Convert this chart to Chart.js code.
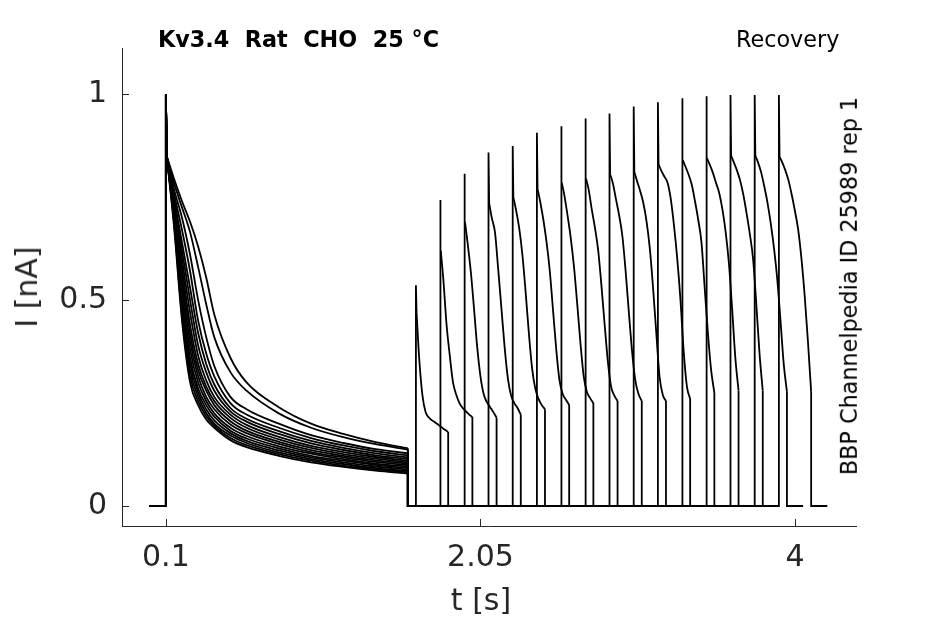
<!DOCTYPE html>
<html>
<head>
<meta charset="utf-8">
<script src="https://cdn.jsdelivr.net/npm/chart.js@4.4.1/dist/chart.umd.min.js"></script>
<style>
html, body { margin: 0; padding: 0; background: #fff; }
#wrap { position: relative; width: 945px; height: 624px; }
.lbl { position: absolute; font-family: "DejaVu Sans"; white-space: pre; line-height: 1; color: #000; }
.ctr { transform: translate(-50%, -50%); }
.rot { transform: translate(-50%, -50%) rotate(-90deg); }
</style>
</head>
<body>
<div id="wrap">
  <canvas id="chart"></canvas>
  <div class="lbl" style="left:158px; top:28px; font-size:22.3px; font-weight:bold;">Kv3.4  Rat  CHO  25 °C</div>
  <div class="lbl" style="left:736px; top:28px; font-size:22.3px;">Recovery</div>
  <div class="lbl rot" style="left:849px; top:286px; font-size:22.3px;">BBP Channelpedia ID 25989 rep 1</div>
  <div class="lbl rot" style="left:27px; top:287px; font-size:30px; color:#262626;">I [nA]</div>
  <div class="lbl ctr" style="left:481px; top:600px; font-size:30px; color:#262626;">t [s]</div>
</div>
<script>
const X_TICKS = [0.1, 2.05, 4];
const Y_TICKS = [0, 0.5, 1];

// conditioning pulse, same times for every sweep (first value is the capacitive spike)
const FIRST_T = [0.1, 0.105, 0.15, 0.2, 0.25, 0.3, 0.35, 0.4, 0.5, 0.6, 0.8, 1.0, 1.2, 1.4, 1.6];
const FIRST_I = [
  [1, 0.85, 0.795, 0.74, 0.69, 0.63, 0.555, 0.465, 0.36, 0.30, 0.24, 0.20, 0.175, 0.155, 0.14],
  [1, 0.85, 0.785, 0.725, 0.665, 0.58, 0.49, 0.41, 0.325, 0.28, 0.225, 0.19, 0.167, 0.15, 0.137],
  [1, 0.85, 0.77, 0.70, 0.61, 0.50, 0.41, 0.34, 0.265, 0.235, 0.20, 0.172, 0.153, 0.138, 0.128],
  [1, 0.85, 0.76, 0.67, 0.57, 0.45, 0.37, 0.315, 0.25, 0.222, 0.19, 0.165, 0.147, 0.133, 0.123],
  [1, 0.85, 0.75, 0.64, 0.53, 0.42, 0.345, 0.295, 0.238, 0.212, 0.182, 0.158, 0.141, 0.128, 0.118],
  [1, 0.85, 0.745, 0.62, 0.50, 0.39, 0.325, 0.28, 0.23, 0.205, 0.175, 0.152, 0.136, 0.123, 0.114],
  [1, 0.85, 0.74, 0.60, 0.47, 0.365, 0.305, 0.265, 0.222, 0.197, 0.168, 0.146, 0.131, 0.119, 0.11],
  [1, 0.85, 0.73, 0.58, 0.44, 0.345, 0.29, 0.255, 0.214, 0.19, 0.162, 0.141, 0.126, 0.115, 0.106],
  [1, 0.85, 0.725, 0.56, 0.42, 0.33, 0.28, 0.245, 0.206, 0.183, 0.156, 0.136, 0.122, 0.111, 0.103],
  [1, 0.85, 0.72, 0.54, 0.40, 0.315, 0.265, 0.235, 0.198, 0.177, 0.151, 0.131, 0.118, 0.107, 0.099],
  [1, 0.85, 0.71, 0.52, 0.38, 0.30, 0.255, 0.225, 0.19, 0.17, 0.145, 0.127, 0.114, 0.103, 0.096],
  [1, 0.85, 0.705, 0.50, 0.36, 0.285, 0.245, 0.217, 0.183, 0.164, 0.14, 0.122, 0.11, 0.10, 0.092],
  [1, 0.85, 0.70, 0.49, 0.345, 0.275, 0.235, 0.208, 0.177, 0.158, 0.135, 0.118, 0.106, 0.096, 0.088],
  [1, 0.85, 0.695, 0.475, 0.33, 0.265, 0.226, 0.20, 0.171, 0.153, 0.13, 0.114, 0.102, 0.092, 0.085],
  [1, 0.85, 0.69, 0.46, 0.315, 0.255, 0.218, 0.195, 0.165, 0.148, 0.126, 0.11, 0.098, 0.089, 0.082],
  [1, 0.85, 0.68, 0.45, 0.30, 0.245, 0.21, 0.19, 0.16, 0.143, 0.122, 0.106, 0.095, 0.086, 0.079],
];

// test pulse after a growing recovery gap (first value is the peak)
const SECOND_START = [1.65, 1.8, 1.95, 2.1, 2.25, 2.4, 2.55, 2.7, 2.85, 3.0, 3.15, 3.3, 3.45, 3.6, 3.75, 3.9];
const SECOND_DT = [0, 0.004, 0.02, 0.04, 0.06, 0.08, 0.1, 0.12, 0.14, 0.16, 0.18, 0.2];
const SECOND_I = [
  [0.536, 0.47, 0.36, 0.27, 0.228, 0.215, 0.208, 0.203, 0.197, 0.191, 0.185, 0.18],
  [0.743, 0.62, 0.55, 0.44, 0.365, 0.30, 0.27, 0.25, 0.238, 0.23, 0.222, 0.216],
  [0.807, 0.69, 0.64, 0.57, 0.48, 0.385, 0.315, 0.272, 0.252, 0.24, 0.228, 0.215],
  [0.858, 0.735, 0.70, 0.665, 0.575, 0.48, 0.385, 0.31, 0.268, 0.25, 0.238, 0.222],
  [0.874, 0.75, 0.72, 0.675, 0.61, 0.52, 0.42, 0.335, 0.285, 0.26, 0.245, 0.235],
  [0.906, 0.77, 0.74, 0.695, 0.64, 0.57, 0.475, 0.38, 0.305, 0.272, 0.258, 0.245],
  [0.922, 0.785, 0.755, 0.705, 0.65, 0.58, 0.49, 0.395, 0.315, 0.277, 0.262, 0.25],
  [0.941, 0.795, 0.77, 0.72, 0.675, 0.62, 0.535, 0.44, 0.35, 0.29, 0.268, 0.255],
  [0.953, 0.805, 0.785, 0.745, 0.705, 0.655, 0.57, 0.47, 0.375, 0.305, 0.272, 0.255],
  [0.97, 0.81, 0.79, 0.765, 0.735, 0.69, 0.625, 0.53, 0.42, 0.315, 0.27, 0.255],
  [0.98, 0.83, 0.815, 0.80, 0.785, 0.745, 0.68, 0.60, 0.50, 0.375, 0.29, 0.26],
  [0.99, 0.84, 0.825, 0.805, 0.78, 0.74, 0.695, 0.64, 0.53, 0.42, 0.33, 0.275],
  [0.995, 0.845, 0.83, 0.81, 0.785, 0.76, 0.72, 0.665, 0.59, 0.48, 0.36, 0.28],
  [0.998, 0.85, 0.835, 0.815, 0.79, 0.755, 0.71, 0.66, 0.60, 0.49, 0.37, 0.28],
  [0.998, 0.85, 0.835, 0.81, 0.775, 0.735, 0.685, 0.625, 0.55, 0.45, 0.345, 0.277],
  [0.998, 0.848, 0.835, 0.815, 0.79, 0.755, 0.715, 0.67, 0.60, 0.51, 0.40, 0.277],
];

const SWEEP_START = 0;
const FIRST_END = 1.6;
const PULSE_LEN = 0.2;
const TAIL_LEN = 0.1;

const datasets = [];
const pt = (x, y) => ({x, y});
const gap = x => ({x, y: null});
SECOND_START.forEach((t0, i) => {
  const first = FIRST_I[i];
  const second = SECOND_I[i];
  const t1 = t0 + PULSE_LEN;
  // steps, spikes and baselines, straight segments
  datasets.push({
    data: [
      pt(SWEEP_START, 0), pt(FIRST_T[0], 0), pt(FIRST_T[0], first[0]), pt(FIRST_T[1], first[1]), gap(FIRST_T[1]),
      pt(FIRST_END, first[first.length - 1]), pt(FIRST_END, 0), pt(t0, 0), pt(t0, second[0]), pt(t0 + SECOND_DT[1], second[1]), gap(t0 + SECOND_DT[1]),
      pt(t1, second[second.length - 1]), pt(t1, 0), pt(t1 + TAIL_LEN, 0),
    ],
    tension: 0,
  });
  // decaying currents, smooth
  datasets.push({
    data: FIRST_T.slice(1).map((t, k) => pt(t, first[k + 1])),
    cubicInterpolationMode: 'monotone',
  });
  datasets.push({
    data: SECOND_DT.slice(1).map((dt, k) => pt(t0 + dt, second[k + 1])),
    cubicInterpolationMode: 'monotone',
  });
});

const inwardTicks = {
  id: 'inwardTicks',
  afterDraw(chart) {
    const {ctx, chartArea, scales: {x, y}} = chart;
    ctx.save();
    ctx.strokeStyle = '#262626';
    ctx.lineWidth = 1;
    ctx.beginPath();
    for (const v of X_TICKS) {
      const px = Math.round(x.getPixelForValue(v)) + 0.5;
      ctx.moveTo(px, chartArea.bottom);
      ctx.lineTo(px, chartArea.bottom - 7);
    }
    for (const v of Y_TICKS) {
      const py = Math.round(y.getPixelForValue(v)) + 0.5;
      ctx.moveTo(chartArea.left, py);
      ctx.lineTo(chartArea.left + 7, py);
    }
    ctx.stroke();
    ctx.restore();
  }
};

const TICK_FONT = {family: 'DejaVu Sans', size: 30};

new Chart(document.getElementById('chart'), {
  type: 'line',
  data: {datasets},
  options: {
    responsive: true,
    maintainAspectRatio: false,
    animation: false,
    layout: {padding: {left: 0, right: 89, top: 48, bottom: 0}},
    elements: {
      point: {radius: 0},
      line: {borderColor: '#000', borderWidth: 1.8, fill: false},
    },
    plugins: {
      legend: {display: false},
      tooltip: {enabled: false},
    },
    scales: {
      x: {
        type: 'linear',
        min: -0.172,
        max: 4.378,
        afterBuildTicks: s => { s.ticks = X_TICKS.map(v => ({value: v})); },
        afterFit: s => { s.height = 98; },
        grid: {drawOnChartArea: false, drawTicks: false},
        border: {color: '#262626', width: 1},
        ticks: {padding: 14, color: '#262626', font: TICK_FONT, maxRotation: 0, autoSkip: false, callback: v => String(v)},
      },
      y: {
        type: 'linear',
        min: -0.0485,
        max: 1.112,
        afterBuildTicks: s => { s.ticks = Y_TICKS.map(v => ({value: v})); },
        afterFit: s => { s.width = 122; },
        grid: {drawOnChartArea: false, drawTicks: false},
        border: {color: '#262626', width: 1},
        ticks: {padding: 15, color: '#262626', font: TICK_FONT, callback: v => String(v)},
      },
    },
  },
  plugins: [inwardTicks],
});
</script>
</body>
</html>
